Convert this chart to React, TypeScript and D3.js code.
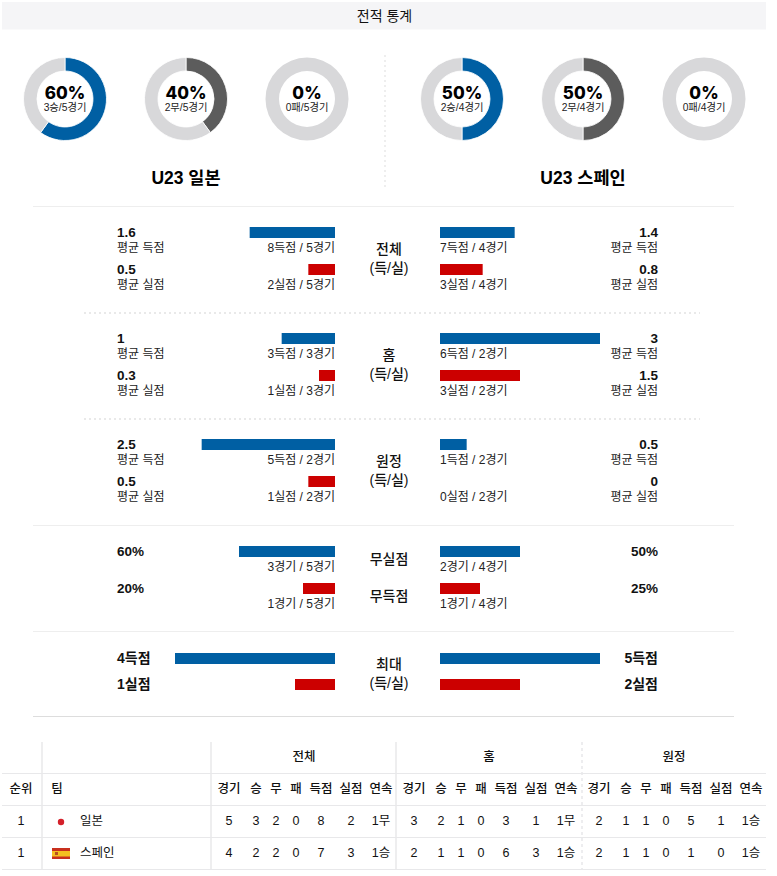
import React from "react";
import * as d3 from "d3";

const FONT = '"Liberation Sans", "Noto Sans CJK KR", sans-serif';
const BLUE = "#005fa3";
const RED = "#cc0000";
const DARK = "#5c5c5c";
const LIGHT = "#d8d8da";
const LINE = "#e8e8ea";

const donutCentersX = [65, 186, 307, 462, 583, 704];
const donutPct = [60, 40, 0, 50, 50, 0];
const donutCounts = ["3승/5경기", "2무/5경기", "0패/5경기", "2승/4경기", "2무/4경기", "0패/4경기"];
const donutColors = [BLUE, DARK, LIGHT, BLUE, DARK, LIGHT];
const teams = ["U23 일본", "U23 스페인"];

const rowTops = [227, 264, 333, 370, 439, 476];
const leftAvg = [1.6, 0.5, 1, 0.3, 2.5, 0.5];
const rightAvg = [1.4, 0.8, 3, 1.5, 0.5, 0];
const avgLabels = ["평균 득점", "평균 실점"];
const leftSubs = ["8득점 / 5경기", "2실점 / 5경기", "3득점 / 3경기", "1실점 / 3경기", "5득점 / 2경기", "1실점 / 2경기"];
const rightSubs = ["7득점 / 4경기", "3실점 / 4경기", "6득점 / 2경기", "3실점 / 2경기", "1득점 / 2경기", "0실점 / 2경기"];

const pctTops = [546, 583];
const leftPct = [60, 20];
const rightPct = [50, 25];
const leftPctSubs = ["3경기 / 5경기", "1경기 / 5경기"];
const rightPctSubs = ["2경기 / 4경기", "1경기 / 4경기"];
const pctNames = ["무실점", "무득점"];

const maxTops = [653, 679];
const leftMax = [4, 1];
const rightMax = [5, 2];
const maxUnits = ["득점", "실점"];

const centerLabels: [string, string, number, number][] = [
  ["전체", "(득/실)", 249, 268],
  ["홈", "(득/실)", 355, 374],
  ["원정", "(득/실)", 461, 480],
  ["최대", "(득/실)", 664, 683],
];

const groupHeads = ["전체", "홈", "원정"];
const groupStarts = [211, 396, 581];
const subHeads = ["경기", "승", "무", "패", "득점", "실점", "연속"];
const subOffsets = [18, 45, 65, 85, 110, 140, 170];
const tableRanks = ["1", "1"];
const tableTeams = ["일본", "스페인"];
const japanRow = ["5", "3", "2", "0", "8", "2", "1무", "3", "2", "1", "0", "3", "1", "1무", "2", "1", "1", "0", "5", "1", "1승"];
const spainRow = ["4", "2", "2", "0", "7", "3", "1승", "2", "1", "1", "0", "6", "3", "1승", "2", "1", "1", "0", "1", "0", "1승"];

const avgScale = d3.scaleLinear().domain([0, 3]).range([0, 160]);
const pctScale = d3.scaleLinear().domain([0, 100]).range([0, 160]);
const maxScale = d3.scaleLinear().domain([0, 4]).range([0, 160]).clamp(true);
const arcGen = d3.arc<d3.PieArcDatum<number>>().innerRadius(28).outerRadius(41.5);

function T(p: any) {
  return <text dominantBaseline="central" fill="#111" {...p} />;
}

function Donut({ i }: { i: number }) {
  const cx = donutCentersX[i];
  const pct = donutPct[i];
  const arcs = d3.pie<number>().sort(null).value((d) => d)([pct, 100 - pct]);
  return (
    <g>
      <g transform={`translate(${cx},99)`}>
        {arcs.map((a, k) =>
          a.value > 0 ? (
            <path key={k} d={arcGen(a) as string} fill={k === 0 ? donutColors[i] : LIGHT}
              stroke="#fff" strokeWidth={pct > 0 ? 0.8 : 0} />
          ) : null
        )}
      </g>
      <T x={cx} y={93} textAnchor="middle" fontFamily="Inter, sans-serif" fontWeight={800} fontSize={17} fill="#000">
        {pct}%
      </T>
      <T x={cx} y={107.5} textAnchor="middle" fontSize={10.3} fill="#222">{donutCounts[i]}</T>
    </g>
  );
}

function Bars({ top, lw, rw, color }: { top: number; lw: number; rw: number; color: string }) {
  return (
    <g>
      <rect x={335 - lw} y={top} width={lw} height={11} fill={color} />
      <rect x={440} y={top} width={rw} height={11} fill={color} />
    </g>
  );
}

export default function App() {
  return (
    <svg width={777} height={876} style={{ position: "absolute", left: 0, top: 0, background: "#fff" }} fontFamily={FONT}>
      <rect x={2} y={2} width={764} height={27.5} fill="#f5f5f7" />
      <T x={384.5} y={15.5} textAnchor="middle" fontSize={14}>전적 통계</T>

      {donutPct.map((_, i) => <Donut key={i} i={i} />)}
      <line x1={385} x2={385} y1={55} y2={190} stroke="#ddd" strokeDasharray="2 3" />
      {teams.map((t, i) => (
        <T key={t} x={i === 0 ? 186 : 583} y={177.5} textAnchor="middle" fontSize={17.5} fontWeight={700} fill="#000">{t}</T>
      ))}

      {[206, 525, 631].map((y) => <line key={y} x1={33} x2={734} y1={y + 0.5} y2={y + 0.5} stroke="#eeeeee" />)}
      <line x1={33} x2={734} y1={716.5} y2={716.5} stroke="#dddddd" />
      {[313, 419].map((y) => <line key={y} x1={84} x2={700} y1={y} y2={y} stroke="#e2e2e2" strokeWidth={1.5} strokeDasharray="2 3" />)}

      {rowTops.map((top, i) => {
        const color = i % 2 === 0 ? BLUE : RED;
        const label = avgLabels[i % 2];
        return (
          <g key={top}>
            <Bars top={top} lw={avgScale(leftAvg[i])} rw={avgScale(rightAvg[i])} color={color} />
            <T x={117} y={top + 5} fontSize={13.5} fontWeight={700}>{leftAvg[i]}</T>
            <T x={117} y={top + 21} fontSize={12} fill="#222">{label}</T>
            <T x={335} y={top + 21} fontSize={12} textAnchor="end" fill="#222">{leftSubs[i]}</T>
            <T x={440} y={top + 21} fontSize={12} fill="#222">{rightSubs[i]}</T>
            <T x={658} y={top + 5} fontSize={13.5} fontWeight={700} textAnchor="end">{rightAvg[i]}</T>
            <T x={658} y={top + 21} fontSize={12} textAnchor="end" fill="#222">{label}</T>
          </g>
        );
      })}

      {pctTops.map((top, i) => (
        <g key={top}>
          <Bars top={top} lw={pctScale(leftPct[i])} rw={pctScale(rightPct[i])} color={i === 0 ? BLUE : RED} />
          <T x={117} y={top + 5} fontSize={13.5} fontWeight={700}>{leftPct[i]}%</T>
          <T x={335} y={top + 21} fontSize={12} textAnchor="end" fill="#222">{leftPctSubs[i]}</T>
          <T x={440} y={top + 21} fontSize={12} fill="#222">{rightPctSubs[i]}</T>
          <T x={658} y={top + 5} fontSize={13.5} fontWeight={700} textAnchor="end">{rightPct[i]}%</T>
          <T x={389} y={top + 13} fontSize={14} fontWeight={500} textAnchor="middle">{pctNames[i]}</T>
        </g>
      ))}

      {maxTops.map((top, i) => (
        <g key={top}>
          <Bars top={top} lw={maxScale(leftMax[i])} rw={maxScale(rightMax[i])} color={i === 0 ? BLUE : RED} />
          <T x={117} y={top + 5} fontSize={14} fontWeight={700}>{leftMax[i]}{maxUnits[i]}</T>
          <T x={658} y={top + 5} fontSize={14} fontWeight={700} textAnchor="end">{rightMax[i]}{maxUnits[i]}</T>
        </g>
      ))}

      {centerLabels.map(([a, b, y1, y2]) => (
        <g key={y1} fontSize={14} fontWeight={500} textAnchor="middle">
          <T x={389} y={y1}>{a}</T>
          <T x={389} y={y2}>{b}</T>
        </g>
      ))}

      {[773, 805, 837, 869].map((y) => <line key={y} x1={2} x2={766} y1={y + 0.5} y2={y + 0.5} stroke={LINE} strokeWidth={1.2} />)}
      {[42, 211, 396].map((x) => <line key={x} x1={x} x2={x} y1={742} y2={869} stroke={LINE} strokeWidth={1.5} />)}
      <line x1={582} x2={582} y1={742} y2={869} stroke={LINE} strokeWidth={1.5} strokeDasharray="3 3" />

      {groupHeads.map((h, i) => (
        <T key={h} x={groupStarts[i] + 93} y={756.5} fontSize={12.5} fontWeight={500} textAnchor="middle">{h}</T>
      ))}
      <T x={21} y={789} fontSize={12.5} fontWeight={500} textAnchor="middle">순위</T>
      <T x={57} y={789} fontSize={12.5} fontWeight={500} textAnchor="middle">팀</T>
      {groupStarts.map((g) =>
        subHeads.map((h, k) => (
          <T key={`${g}${k}`} x={g + subOffsets[k]} y={789} fontSize={12.5} fontWeight={500} textAnchor="middle">{h}</T>
        ))
      )}
      {[japanRow, spainRow].map((row, r) => {
        const y = 821 + r * 32;
        return (
          <g key={r}>
            <T x={21} y={y} fontSize={12.5} textAnchor="middle">{tableRanks[r]}</T>
            <T x={80} y={y} fontSize={12.5}>{tableTeams[r]}</T>
            {row.map((v, k) => (
              <T key={k} x={groupStarts[Math.floor(k / 7)] + subOffsets[k % 7]} y={y} fontSize={12.5} textAnchor="middle">{v}</T>
            ))}
          </g>
        );
      })}
      <circle cx={61} cy={822} r={3.2} fill="#d4202a" />
      <rect x={52} y={848} width={18} height={11} fill="#c8301e" />
      <rect x={52} y={851} width={18} height={5.5} fill="#f4c020" />
      <rect x={55} y={852} width={3} height={3} fill="#b8501e" />
    </svg>
  );
}
